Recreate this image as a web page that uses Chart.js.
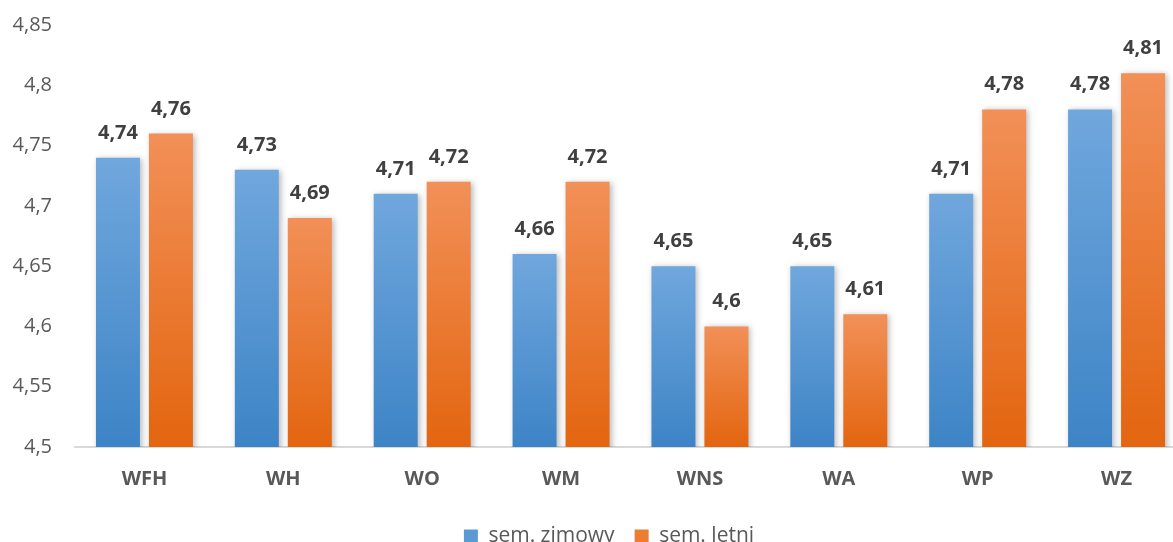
<!DOCTYPE html>
<html lang="pl">
<head>
  <meta charset="UTF-8">
  <title>Oceny - sem. zimowy / sem. letni</title>
  <script src="https://cdn.jsdelivr.net/npm/chart.js"></script>
  <style>
    html, body {
      margin: 0;
      padding: 0;
      overflow: hidden;
      background: #ffffff;
    }
  </style>
</head>
<body>
  <canvas id="myChart" width="1186" height="557"></canvas>

  <script>
    // data
    const categories = ['WFH', 'WH', 'WO', 'WM', 'WNS', 'WA', 'WP', 'WZ'];
    const zimowy = [4.74, 4.73, 4.71, 4.66, 4.65, 4.65, 4.71, 4.78];
    const letni = [4.76, 4.69, 4.72, 4.72, 4.60, 4.61, 4.78, 4.81];
    const yTicks = [4.5, 4.55, 4.6, 4.65, 4.7, 4.75, 4.8, 4.85];

    const FONT = '"Open Sans", "DejaVu Sans", sans-serif';

    function fmt(v) {
      return String(Math.round(v * 100) / 100).replace('.', ',');
    }

    // vertical gradient per bar, light on top
    function barGradient(top, bottom) {
      return function (context) {
        const chart = context.chart;
        const y = chart.scales.y;
        if (!y || context.parsed === undefined) return bottom;
        const y0 = y.getPixelForValue(context.parsed.y);
        const y1 = y.getPixelForValue(y.min);
        if (!isFinite(y0) || !isFinite(y1) || y0 === y1) return bottom;
        const g = chart.ctx.createLinearGradient(0, y0, 0, y1);
        g.addColorStop(0, top);
        g.addColorStop(1, bottom);
        return g;
      };
    }

    // shadow under bars + value labels above them
    const barExtras = {
      id: 'barExtras',
      afterLayout(chart) {
        // legend sits a bit right of the canvas centre
        if (chart.legend) {
          chart.legend.left += 16;
          chart.legend.right += 16;
        }
      },
      beforeDatasetsDraw(chart) {
        const ctx = chart.ctx;
        ctx.save();
        ctx.shadowColor = 'rgba(0, 0, 0, 0.28)';
        ctx.shadowBlur = 6;
        ctx.shadowOffsetX = 2;
        ctx.shadowOffsetY = 1;
      },
      afterDatasetsDraw(chart) {
        const ctx = chart.ctx;
        ctx.restore();
        ctx.save();
        ctx.font = 'bold 20px ' + FONT;
        ctx.fillStyle = '#404040';
        ctx.textAlign = 'center';
        ctx.textBaseline = 'alphabetic';
        chart.data.datasets.forEach((ds, i) => {
          chart.getDatasetMeta(i).data.forEach((bar, j) => {
            ctx.fillText(fmt(ds.data[j]), bar.x, bar.y - 19);
          });
        });
        ctx.restore();
      }
    };

    const ctx = document.getElementById('myChart').getContext('2d');
    const myChart = new Chart(ctx, {
      type: 'bar',
      data: {
        labels: categories,
        datasets: [{
          label: 'sem. zimowy',
          data: zimowy,
          backgroundColor: barGradient('#70a7dd', '#3d84c6'),
          borderWidth: 0
        }, {
          label: 'sem. letni',
          data: letni,
          backgroundColor: barGradient('#f29058', '#e3650f'),
          borderWidth: 0
        }]
      },
      options: {
        responsive: false,
        animation: false,
        datasets: {
          bar: {
            categoryPercentage: 0.763,
            barPercentage: 0.83
          }
        },
        layout: {
          padding: 0
        },
        plugins: {
          tooltip: { enabled: false },
          legend: {
            position: 'bottom',
            labels: {
              boxWidth: 14,
              boxHeight: 14,
              padding: 20,
              color: '#595959',
              font: { family: FONT, size: 21 },
              generateLabels(chart) {
                const cols = ['#5b9bd5', '#ed7d31'];
                return chart.data.datasets.map((ds, i) => ({
                  text: ds.label,
                  fillStyle: cols[i],
                  strokeStyle: cols[i],
                  lineWidth: 0,
                  fontColor: '#595959',
                  datasetIndex: i
                }));
              }
            }
          }
        },
        scales: {
          x: {
            grid: { display: false, drawTicks: false },
            border: { display: true, color: '#d9d9d9', width: 2 },
            ticks: {
              padding: 20,
              color: '#595959',
              font: { family: FONT, size: 20, weight: 'bold' }
            },
            afterFit(scale) {
              scale.height = 59;
            }
          },
          y: {
            min: 4.5,
            max: 4.85,
            grid: { display: false, drawTicks: false },
            border: { display: false },
            afterBuildTicks(scale) {
              scale.ticks = yTicks.map(v => ({ value: v }));
            },
            ticks: {
              padding: 23,
              color: '#595959',
              font: { family: FONT, size: 20 },
              callback: v => fmt(v)
            },
            afterFit(scale) {
              scale.width = 75;
              scale.paddingTop = 25;
              scale.paddingBottom = 13;
            }
          }
        }
      },
      plugins: [barExtras]
    });
  </script>
</body>
</html>
